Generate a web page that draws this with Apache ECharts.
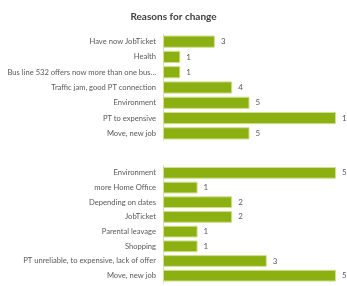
<!DOCTYPE html>
<html><head><meta charset="utf-8">
<script src="https://cdn.jsdelivr.net/npm/echarts@6/dist/echarts.min.js"></script>
<style>html,body{margin:0;padding:0;background:#fff}#c{width:347px;height:286px}</style>
</head><body><div id="c"></div>
<script>
var title = 'Reasons for change';
var catsTop = ['Have now JobTicket','Health','Bus line 532 offers now more than one bus...','Traffic jam, good PT connection','Environment','PT to expensive','Move, new job'];
var valsTop = [3,1,1,4,5,10,5];
var catsBottom = ['Environment','more Home Office','Depending on dates','JobTicket','Parental leavage','Shopping','PT unreliable, to expensive, lack of offer','Move, new job'];
var valsBottom = [5,1,2,2,1,1,3,5];

var chart = echarts.init(document.getElementById('c'));
var font = 'Lato, sans-serif';
function yAxis(idx, cats){
  return {type:'category', gridIndex:idx, data:cats, inverse:true,
    axisLine:{show:true,lineStyle:{color:'#d9d9d9'}}, axisTick:{show:false},
    axisLabel:{color:'#595959', fontSize:7.6, fontFamily:font, margin:7}};
}
function xAxis(idx, max){
  return {type:'value', gridIndex:idx, min:0, max:max, show:false, splitLine:{show:false}};
}
function series(idx, vals){
  return {type:'bar', xAxisIndex:idx, yAxisIndex:idx, data:vals, barCategoryGap:'20%',
    itemStyle:{color:'#8cb011', borderColor:'#cfe08f', borderWidth:1},
    label:{show:true, position:'right', color:'#595959', fontSize:8, fontFamily:font, distance:6},
    animation:false};
}
chart.setOption({
  animation:false,
  title:{text:title, left:'center', top:7, textStyle:{fontSize:10, fontWeight:'bold', color:'#404040', fontFamily:font}},
  grid:[{left:163, right:11, top:34, height:107, containLabel:false, outerBoundsMode:'none'},
        {left:163, right:11, top:165.5, height:117.5, containLabel:false, outerBoundsMode:'none'}],
  xAxis:[xAxis(0,10), xAxis(1,5)],
  yAxis:[yAxis(0,catsTop), yAxis(1,catsBottom)],
  series:[series(0,valsTop), series(1,valsBottom)]
});
</script></body></html>
